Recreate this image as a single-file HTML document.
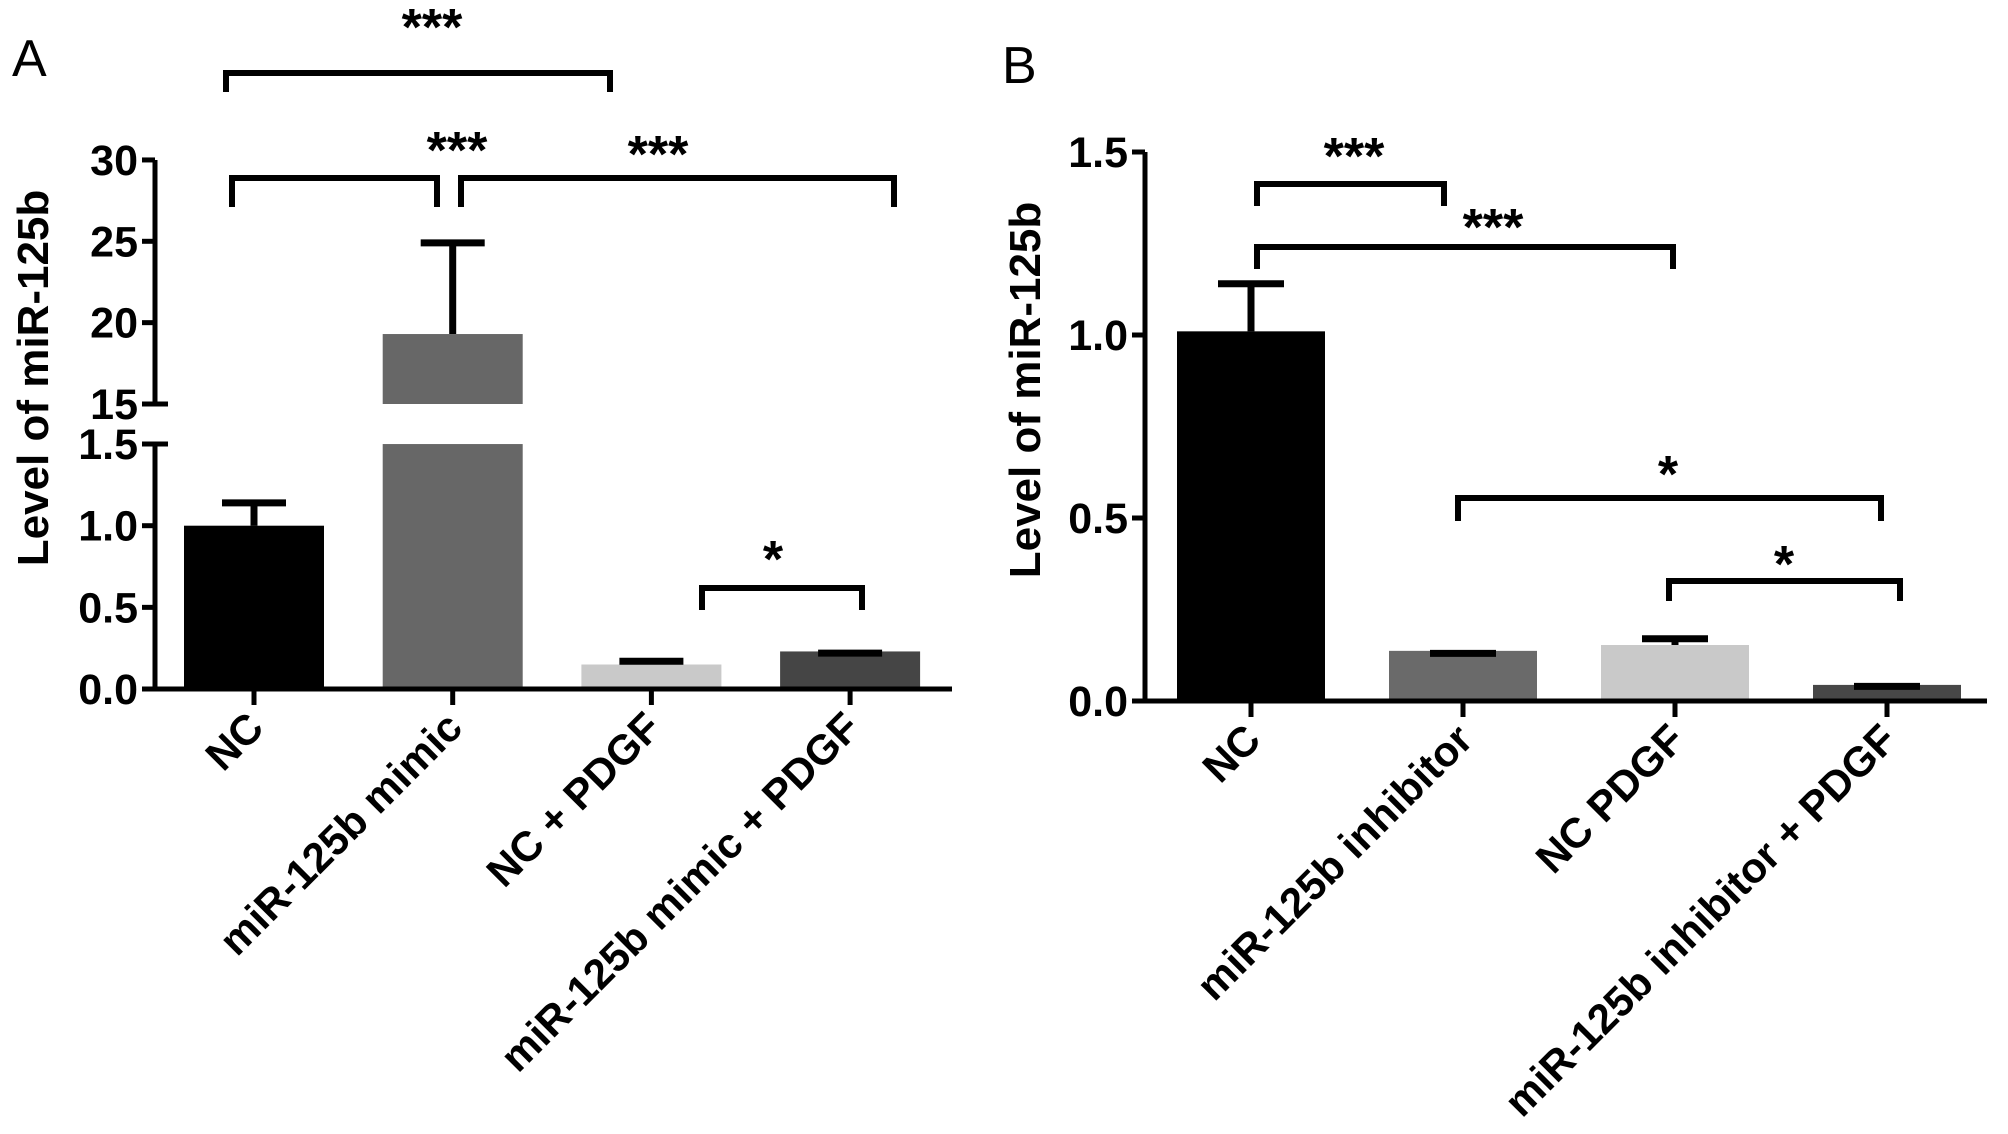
<!DOCTYPE html>
<html><head><meta charset="utf-8"><style>
html,body{margin:0;padding:0;background:#fff;}
svg{display:block;}
text{font-family:"Liberation Sans",sans-serif;}
.tk{font-family:"Liberation Sans Narrow","Liberation Sans",sans-serif;font-weight:bold;font-size:43px;}
</style></head><body>
<svg id="chart" width="2008" height="1134" viewBox="0 0 2008 1134" xmlns="http://www.w3.org/2000/svg"></svg>
<script>
// Panel A data
const catsA = ["NC", "miR-125b mimic", "NC + PDGF", "miR-125b mimic + PDGF"];
const valsA = [1.0, 19.3, 0.15, 0.23];
const errA = [1.14, 24.9, 0.17, 0.22];
const lowTicksA = [0.0, 0.5, 1.0, 1.5];
const lowTickLabelsA = ["0.0", "0.5", "1.0", "1.5"];
const highTicksA = [15, 20, 25, 30];
const highTickLabelsA = ["15", "20", "25", "30"];
// Panel B data
const catsB = ["NC", "miR-125b inhibitor", "NC PDGF", "miR-125b inhibitor + PDGF"];
const valsB = [1.01, 0.137, 0.153, 0.044];
const errB = [1.14, 0.13, 0.17, 0.04];
const ticksB = [0.0, 0.5, 1.0, 1.5];
const tickLabelsB = ["0.0", "0.5", "1.0", "1.5"];

const NS = "http://www.w3.org/2000/svg";
const svg = document.getElementById("chart");
function mk(tag, attrs, parent){
  const e = document.createElementNS(NS, tag);
  for (const k in attrs) e.setAttribute(k, attrs[k]);
  (parent || svg).appendChild(e);
  return e;
}
function txt(s, attrs){ const t = mk("text", attrs); t.textContent = s; return t; }

const yLowA = v => 689 - v * 163.3;
const yHighA = v => 404 - (v - 15) * 16.27;
const xA = i => 254 + i * 198.7;
const yB = v => 701 - v * 366;
const xB = i => 1251 + i * 212;

const colorsA = ["#000000", "#676767", "#c9c9c9", "#454545"];
const colorsB = ["#000000", "#6a6a6a", "#c9c9c9", "#474747"];

let e;
e = txt("A", {x: 12, y: 76, "font-size": 52});



valsA.forEach((v, i) => {
  const cx = xA(i), w = 140;
  if (v > 1.5) {
    e = mk("rect", {x: cx - w/2, y: yLowA(1.5), width: w, height: yLowA(0) - yLowA(1.5), fill: colorsA[i]});
    
    
    e = mk("rect", {x: cx - w/2, y: yHighA(v), width: w, height: yHighA(15) - yHighA(v), fill: colorsA[i]});
    
    
  } else {
    e = mk("rect", {x: cx - w/2, y: yLowA(v), width: w, height: yLowA(0) - yLowA(v), fill: colorsA[i]});
    
    
  }
  const ey = errA[i] > 1.5 ? yHighA(errA[i]) : yLowA(errA[i]);
  const by = v > 1.5 ? yHighA(v) : yLowA(v);
  e = mk("path", {d: `M${cx} ${by} V${ey} M${cx-32} ${ey} H${cx+32}`, stroke: "#000", "stroke-width": 7, fill: "none"});
  
  
});

e = mk("path", {d: `M155 ${yHighA(30)} V${yHighA(15)} M155 ${yLowA(1.5)} V${yLowA(0)} H952`, stroke: "#000", "stroke-width": 5, fill: "none"});


lowTicksA.forEach((t, i) => {
  const y = yLowA(t);
  mk("line", {x1: 142, x2: i === 3 ? 168 : 155, y1: y, y2: y, stroke: "#000", "stroke-width": 5});
  e = txt(lowTickLabelsA[i], {x: 138, y: y + 15, "text-anchor": "end", class: "tk"});
  
  
});
highTicksA.forEach((t, i) => {
  const y = yHighA(t);
  mk("line", {x1: 142, x2: i === 0 ? 168 : 155, y1: y, y2: y, stroke: "#000", "stroke-width": 5});
  e = txt(highTickLabelsA[i], {x: 138, y: y + 15, "text-anchor": "end", class: "tk"});
  
  
});
catsA.forEach((c, i) => {
  const x = xA(i);
  mk("line", {x1: x, x2: x, y1: 689, y2: 705, stroke: "#000", "stroke-width": 5});
  e = txt(c, {x: x + 12, y: 730, "text-anchor": "end", "font-weight": "bold", "font-size": 42, transform: `rotate(-45 ${x + 12} 730)`});
  
  
});
e = txt("Level of miR-125b", {x: 0, y: 0, "text-anchor": "middle", "font-weight": "bold", "font-size": 44, transform: "translate(48 378) rotate(-90)"});



function bracket(x1, x2, y, drop, label, sx, sy, name){
  e = mk("path", {d: `M${x1} ${y + drop} V${y} H${x2} V${y + drop}`, stroke: "#000", "stroke-width": 6, fill: "none"});
  
  
  e = txt(label, {x: sx, y: sy + 22, "text-anchor": "middle", "font-size": 52, "font-weight": "bold"});
  
  
}
bracket(226, 610, 73, 19, "***", 432, 23, "sig-bracket-a-1");
bracket(232, 437, 178, 29, "***", 457, 146, "sig-bracket-a-2");
bracket(461, 894, 178, 29, "***", 658, 150, "sig-bracket-a-3");
bracket(702, 862, 588, 22, "*", 773, 555, "sig-bracket-a-4");

e = txt("B", {x: 1002, y: 83, "font-size": 52});



valsB.forEach((v, i) => {
  const cx = xB(i), w = 148;
  e = mk("rect", {x: cx - w/2, y: yB(v), width: w, height: yB(0) - yB(v), fill: colorsB[i]});
  
  
  const ey = yB(errB[i]);
  e = mk("path", {d: `M${cx} ${yB(v)} V${ey} M${cx-33} ${ey} H${cx+33}`, stroke: "#000", "stroke-width": 7, fill: "none"});
  
  
});
e = mk("path", {d: `M1145 ${yB(1.5)} V${yB(0)} H1987`, stroke: "#000", "stroke-width": 5, fill: "none"});


ticksB.forEach((t, i) => {
  const y = yB(t);
  mk("line", {x1: 1132, x2: 1145, y1: y, y2: y, stroke: "#000", "stroke-width": 5});
  e = txt(tickLabelsB[i], {x: 1128, y: y + 15, "text-anchor": "end", class: "tk"});
  
  
});
catsB.forEach((c, i) => {
  const x = xB(i);
  mk("line", {x1: x, x2: x, y1: 701, y2: 717, stroke: "#000", "stroke-width": 5});
  e = txt(c, {x: x + 12, y: 742, "text-anchor": "end", "font-weight": "bold", "font-size": 42, transform: `rotate(-45 ${x + 12} 742)`});
  
  
});
e = txt("Level of miR-125b", {x: 0, y: 0, "text-anchor": "middle", "font-weight": "bold", "font-size": 44, transform: "translate(1040 390) rotate(-90)"});



bracket(1257, 1444, 184, 22, "***", 1354, 152, "sig-bracket-b-1");
bracket(1257, 1673, 247, 22, "***", 1493, 223, "sig-bracket-b-2");
bracket(1458, 1881, 498, 23, "*", 1668, 470, "sig-bracket-b-3");
bracket(1669, 1900, 581, 20, "*", 1784, 560, "sig-bracket-b-4");
</script>
</body></html>
